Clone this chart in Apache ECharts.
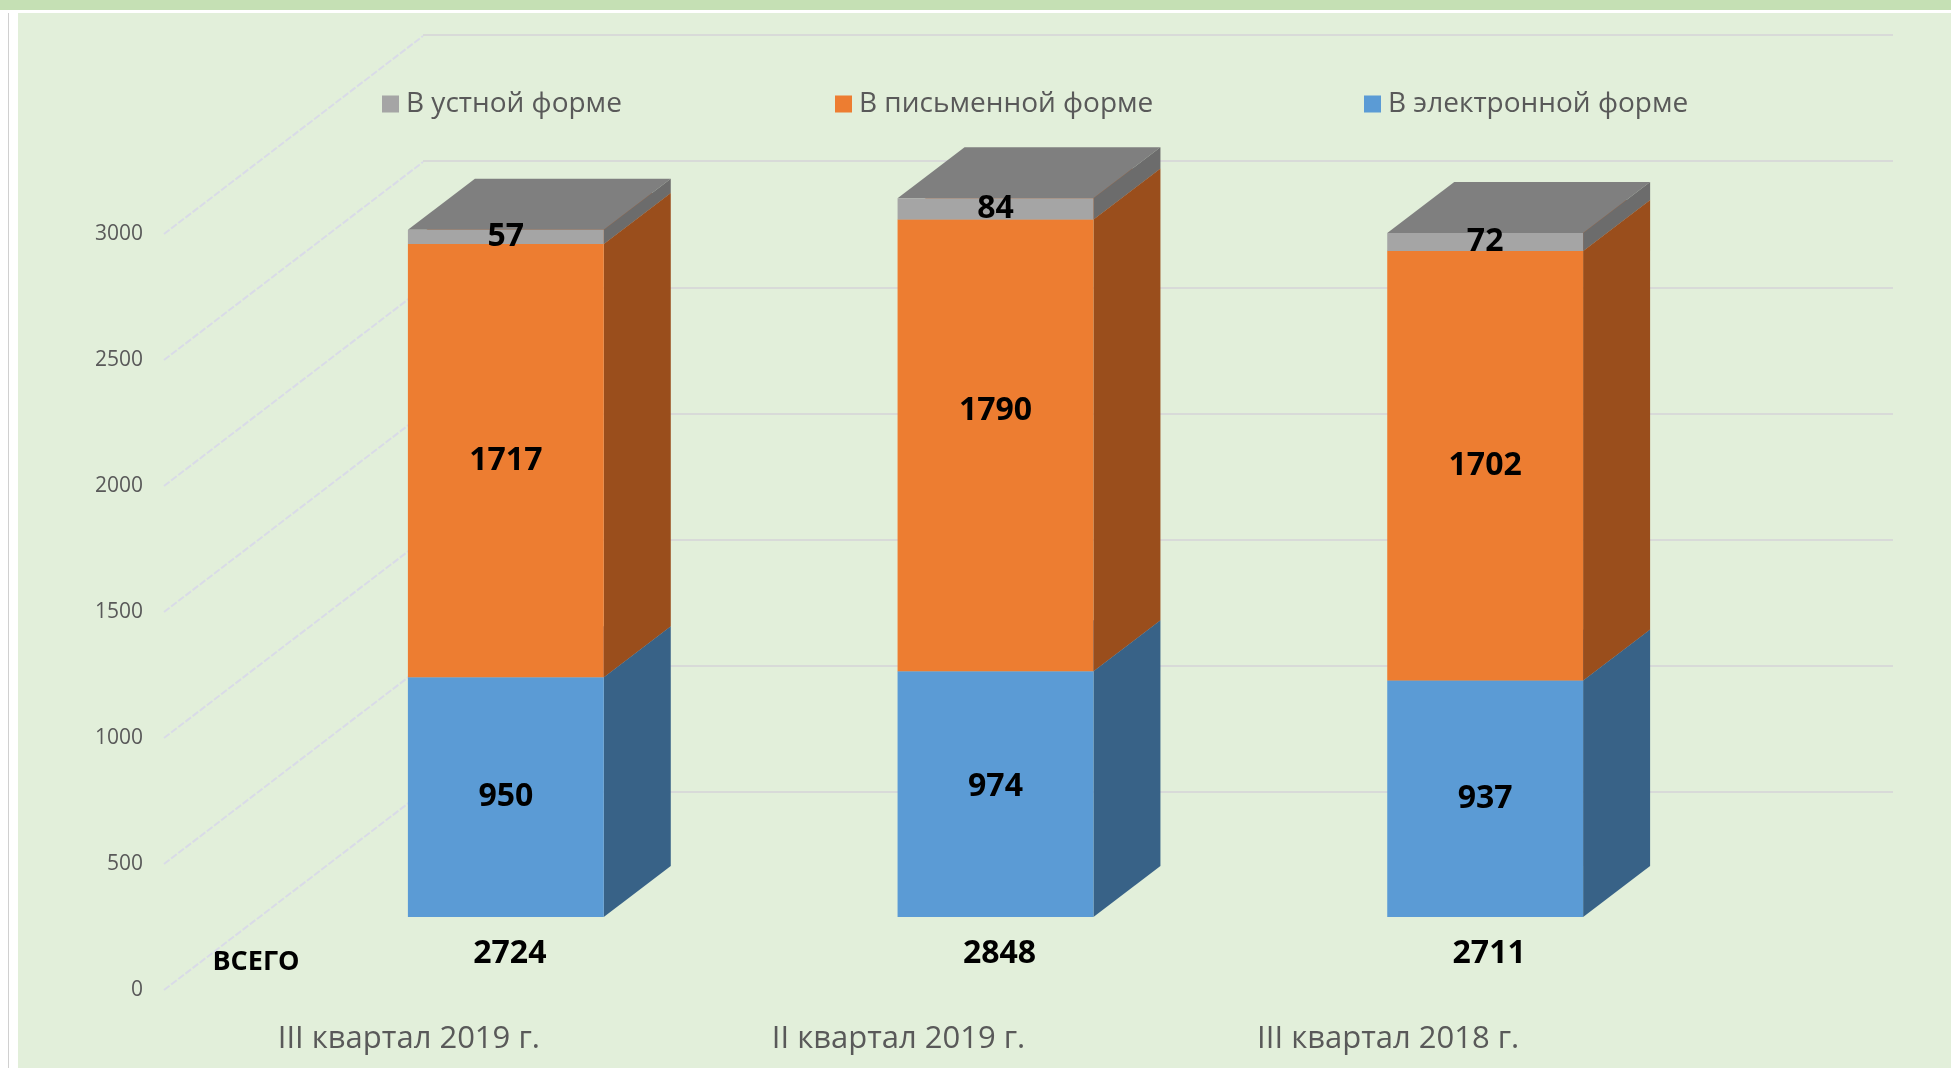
<!DOCTYPE html>
<html>
<head>
<meta charset="utf-8">
<title>Обращения граждан</title>
<script src="https://cdn.jsdelivr.net/npm/echarts@6/dist/echarts.min.js"></script>
<style>
  html, body { margin: 0; padding: 0; background: #fff; overflow: hidden; }
  #band { position: absolute; left: 0; top: 0; width: 1951px; height: 10px; background: #c5e0b4; }
  #rule { position: absolute; left: 8px; top: 13px; width: 1px; height: 1055px; background: #d0d0d0; }
  #panel { position: absolute; left: 18px; top: 13px; width: 1933px; height: 1055px; background: #e2efda; }
  #chart { position: absolute; left: 0; top: 0; width: 1951px; height: 1074px; }
</style>
</head>
<body>
<div id="band"></div>
<div id="rule"></div>
<div id="panel"></div>
<div id="chart"></div>
<script>
var categories = ['III квартал 2019 г.', 'II квартал 2019 г.', 'III квартал 2018 г.'];
var electronic = [950, 974, 937];
var written = [1717, 1790, 1702];
var oral = [57, 84, 72];
var totals = [2724, 2848, 2711];
var yTicks = [0, 500, 1000, 1500, 2000, 2500, 3000];

// глубина столбика и боковой стенки (проекция)
var DX = 67, DY = -51;
var WALL_DX = 259, WALL_DY = -198;
var BAR_RATIO = 0.4;
var FONT = '"Open Sans", "Noto Sans", sans-serif';

var faces = {
    electronic: { front: '#5b9bd5', side: '#386287', top: '#4a80b3', shift: [0, -7, 0] },
    written: { front: '#ed7d31', side: '#9a4e1c', top: '#c4672a', shift: [0, -34, 0] },
    oral: { front: '#a5a5a5', side: '#6c6c6c', top: '#7f7f7f', shift: [0, 0, 0] }
};

function stackRows(values, bases) {
    return values.map(function (v, i) {
        var lo = bases ? bases[i] : 0;
        return [i, lo, lo + v, v];
    });
}

var base2 = electronic.map(function (v, i) { return v + written[i]; });

function boxRenderer(f) {
    return function (params, api) {
        var i = api.value(0), lo = api.value(1), hi = api.value(2), v = api.value(3);
        var b = api.coord([i, lo]), t = api.coord([i, hi]);
        var w = api.size([1, 0])[0] * BAR_RATIO;
        var x0 = b[0] - w / 2, x1 = b[0] + w / 2;
        var yb = b[1], yt = t[1];
        return {
            type: 'group',
            children: [
                { type: 'polygon', shape: { points: [[x0, yt], [x0 + DX, yt + DY], [x1 + DX, yt + DY], [x1, yt]] }, style: { fill: f.top } },
                { type: 'polygon', shape: { points: [[x1, yb], [x1 + DX, yb + DY], [x1 + DX, yt + DY], [x1, yt]] }, style: { fill: f.side } },
                { type: 'rect', shape: { x: x0, y: yt, width: w, height: yb - yt }, style: { fill: f.front } },
                {
                    type: 'text',
                    style: {
                        text: String(v), x: b[0], y: (yb + yt) / 2 + f.shift[params.dataIndex],
                        align: 'center', verticalAlign: 'middle',
                        textAlign: 'center', textVerticalAlign: 'middle',
                        font: 'bold 32px ' + FONT, fill: '#000'
                    }
                }
            ]
        };
    };
}

function legendAt(name, left) {
    return {
        data: [name],
        left: left,
        top: 85,
        icon: 'rect',
        itemWidth: 17,
        itemHeight: 17,
        itemGap: 0,
        selectedMode: false,
        textStyle: { fontFamily: FONT, fontSize: 28, color: '#595959', padding: [0, 0, 0, 2] }
    };
}

var chart = echarts.init(document.getElementById('chart'));
chart.setOption({
    animation: false,
    backgroundColor: 'transparent',
    legend: [
        legendAt('В устной форме', 377),
        legendAt('В письменной форме', 830),
        legendAt('В электронной форме', 1359)
    ],
    grid: [
        // передняя плоскость столбиков
        { left: 261, right: 221, top: 160, bottom: 157 },
        // передний край пола: подписи осей
        { left: 164, right: 318, top: 234, bottom: 84 },
        // задняя стенка
        { left: 423, right: 58, top: 35, bottom: 282 }
    ],
    xAxis: [
        { type: 'category', gridIndex: 0, data: categories, show: false },
        {
            type: 'category', gridIndex: 1, data: categories,
            axisLine: { show: false }, axisTick: { show: false },
            axisLabel: { fontFamily: FONT, fontSize: 31, color: '#595959', margin: 34 }
        },
        { type: 'value', gridIndex: 2, min: 0, max: 1, show: false }
    ],
    yAxis: [
        { type: 'value', gridIndex: 0, min: 0, max: 3000, interval: 500, show: false },
        {
            type: 'value', gridIndex: 1, min: 0, max: 3000, interval: 500,
            axisLine: { show: false }, axisTick: { show: false }, splitLine: { show: false },
            axisLabel: {
                fontFamily: FONT, fontSize: 21, color: '#595959', margin: 21,
                formatter: function (v) { return String(v); }
            }
        },
        {
            type: 'value', gridIndex: 2, min: 0, max: 3000, interval: 500,
            axisLine: { show: false }, axisTick: { show: false }, axisLabel: { show: false },
            splitLine: { show: true, lineStyle: { color: '#d8dad8', width: 2 } }
        }
    ],
    graphic: [{
        type: 'text',
        style: {
            text: 'ВСЕГО', x: 256, y: 962,
            align: 'center', verticalAlign: 'middle',
            textAlign: 'center', textVerticalAlign: 'middle',
            font: 'bold 27px ' + FONT, fill: '#000'
        }
    }],
    series: [
        {
            type: 'custom', name: 'wall', xAxisIndex: 1, yAxisIndex: 1, silent: true, z: 1,
            data: yTicks.map(function (v) { return [0, v]; }),
            renderItem: function (params, api) {
                var y = api.coord([0, api.value(1)])[1];
                var x = params.coordSys.x;
                return {
                    type: 'line',
                    shape: { x1: x, y1: y, x2: x + WALL_DX, y2: y + WALL_DY },
                    style: { stroke: '#d9dbe7', lineWidth: 2, lineDash: [7, 2] }
                };
            }
        },
        {
            type: 'custom', name: 'В электронной форме', xAxisIndex: 0, yAxisIndex: 0, z: 2,
            itemStyle: { color: faces.electronic.front },
            encode: { x: 0, y: [1, 2] },
            data: stackRows(electronic),
            renderItem: boxRenderer(faces.electronic)
        },
        {
            type: 'custom', name: 'В письменной форме', xAxisIndex: 0, yAxisIndex: 0, z: 2,
            itemStyle: { color: faces.written.front },
            encode: { x: 0, y: [1, 2] },
            data: stackRows(written, electronic),
            renderItem: boxRenderer(faces.written)
        },
        {
            type: 'custom', name: 'В устной форме', xAxisIndex: 0, yAxisIndex: 0, z: 2,
            itemStyle: { color: faces.oral.front },
            encode: { x: 0, y: [1, 2] },
            data: stackRows(oral, base2),
            renderItem: boxRenderer(faces.oral)
        },
        {
            type: 'custom', name: 'ВСЕГО', xAxisIndex: 0, yAxisIndex: 0, z: 3, silent: true,
            encode: { x: 0, y: 1 },
            data: totals.map(function (t, i) { return [i, t]; }),
            renderItem: function (params, api) {
                var p = api.coord([api.value(0), 0]);
                return {
                    type: 'text',
                    style: {
                        text: String(api.value(1)), x: p[0] + 4, y: p[1] + 37,
                        align: 'center', verticalAlign: 'middle',
                        textAlign: 'center', textVerticalAlign: 'middle',
                        font: 'bold 32px ' + FONT, fill: '#000'
                    }
                };
            }
        }
    ]
});
</script>
</body>
</html>
